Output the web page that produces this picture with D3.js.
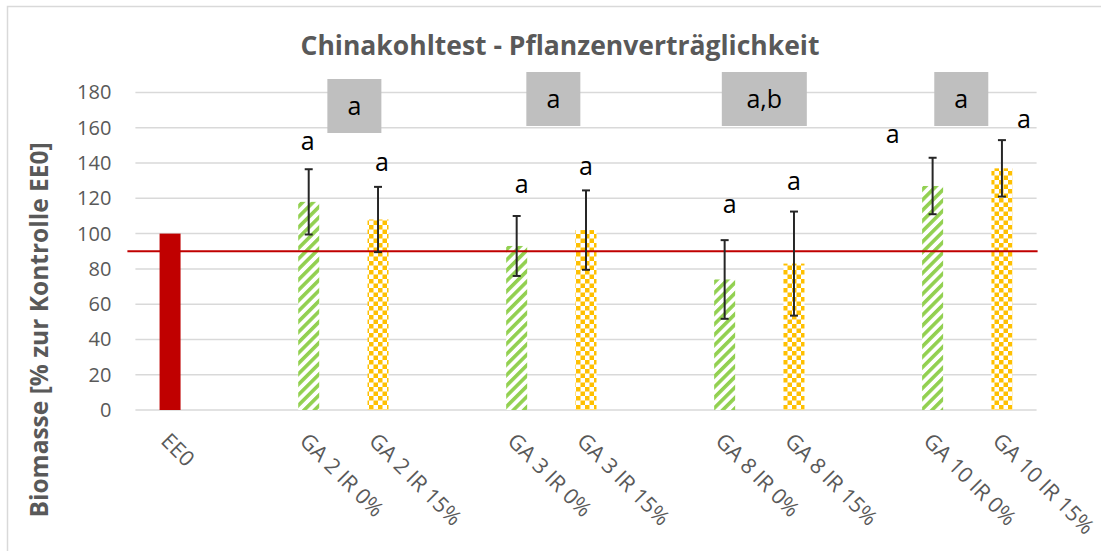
<!DOCTYPE html>
<html>
<head>
<meta charset="utf-8">
<script src="https://cdn.jsdelivr.net/npm/d3@7"></script>
<style>
  html, body { margin: 0; padding: 0; background: #fff; }
  svg { display: block; }
  text { font-family: "Open Sans", "Noto Sans", sans-serif; }
</style>
</head>
<body>
<svg id="chart" width="1101" height="551"></svg>
<script>
// Treatment groups (a blank slot separates each group on the axis)
const groups = [
  ["EE0"],
  ["GA 2 IR 0%", "GA 2 IR 15%"],
  ["GA 3 IR 0%", "GA 3 IR 15%"],
  ["GA 8 IR 0%", "GA 8 IR 15%"],
  ["GA 10 IR 0%", "GA 10 IR 15%"]
];
const categories = groups.flat();

// Biomass relative to the EE0 control (%)
const biomass   = [100, 118, 108, 93, 102, 74, 83, 127, 137];
const errorBars = [null, 18.5, 18.5, 17, 22.5, 22.3, 29.5, 16, 16];

// Significance letter per treatment and its height on the value axis
const sigLetters  = [null, "a", "a", "a", "a", "a", "a", "a", "a"];
const sigLetterAt = [null, 152, 140, 127.5, 138, 116, 129, 156, 164.5];
const sigLetterNudge = [0, -1, 4, 5, 0, 5, 0, -40, 22];

// Letters shown for each fertiliser group (GA 2, GA 3, GA 8, GA 10)
const groupLetters = ["a", "a", "a,b", "a"];
const groupLetterNudge = [11, 2, 5, -6];

// Reference threshold line
const threshold = 90;

const yTicks = [0, 20, 40, 60, 80, 100, 120, 140, 160, 180];

// Fill style per category
const barKind = ["solid", "stripe", "check", "stripe", "check", "stripe", "check", "stripe", "check"];

const svg = d3.select("#chart");

// Outer chart frame
svg.append("rect")
  .attr("x", 7.5).attr("y", 6.5)
  .attr("width", 1110).attr("height", 560)
  .attr("fill", "#fff").attr("stroke", "#d9d9d9").attr("stroke-width", 1.5);

// Patterns
const defs = svg.append("defs");
const stripe = defs.append("pattern")
  .attr("id", "stripeGreen")
  .attr("patternUnits", "userSpaceOnUse")
  .attr("width", 7.4).attr("height", 7.4)
  .attr("patternTransform", "rotate(45)");
stripe.append("rect").attr("width", 7.4).attr("height", 7.4).attr("fill", "#fff");
stripe.append("rect").attr("width", 3.6).attr("height", 7.4).attr("fill", "#92D050");

const check = defs.append("pattern")
  .attr("id", "checkOrange")
  .attr("patternUnits", "userSpaceOnUse")
  .attr("width", 9).attr("height", 9);
check.append("rect").attr("width", 9).attr("height", 9).attr("fill", "#fff");
check.append("rect").attr("width", 4.5).attr("height", 4.5).attr("fill", "#FFC000");
check.append("rect").attr("x", 4.5).attr("y", 4.5).attr("width", 4.5).attr("height", 4.5).attr("fill", "#FFC000");

const fills = { solid: "#C00000", stripe: "url(#stripeGreen)", check: "url(#checkOrange)" };

// Category axis domain with a spacer slot after each group
const domain = [];
groups.forEach((g, i) => {
  g.forEach(c => domain.push(c));
  if (i < groups.length - 1) domain.push("gap" + i);
});

const plot = { left: 135.4, right: 1036.6, top: 92.5, bottom: 410 };
const x = d3.scaleBand().domain(domain).range([plot.left, plot.right]);
const y = d3.scaleLinear().domain([0, 180]).range([plot.bottom, plot.top]);
const cx = c => x(c) + x.bandwidth() / 2;
const barW = 21;

// Gridlines
svg.append("g")
  .selectAll("line")
  .data(yTicks)
  .join("line")
  .attr("x1", plot.left).attr("x2", plot.right)
  .attr("y1", d => y(d)).attr("y2", d => y(d))
  .attr("stroke", "#d9d9d9").attr("stroke-width", 1.5);

// Value axis labels
const yAxis = svg.append("g")
  .attr("transform", `translate(${plot.left - 24},0)`)
  .call(d3.axisLeft(y).tickValues(yTicks).tickSize(0).tickPadding(0));
yAxis.select(".domain").remove();
yAxis.selectAll("text")
  .attr("font-size", 20)
  .attr("fill", "#595959")
  .attr("font-family", "'Open Sans', sans-serif");

// Bars
svg.append("g")
  .selectAll("rect")
  .data(categories)
  .join("rect")
  .attr("x", c => cx(c) - barW / 2)
  .attr("width", barW)
  .attr("y", (c, i) => y(biomass[i]))
  .attr("height", (c, i) => y(0) - y(biomass[i]))
  .attr("fill", (c, i) => fills[barKind[i]]);

// Threshold line
svg.append("line")
  .attr("x1", plot.left - 8).attr("x2", plot.right + 1)
  .attr("y1", y(threshold)).attr("y2", y(threshold))
  .attr("stroke", "#C00000").attr("stroke-width", 2);

// Error bars
const eb = svg.append("g").attr("stroke", "#262626").attr("stroke-width", 2);
categories.forEach((c, i) => {
  if (errorBars[i] == null) return;
  const xc = cx(c);
  const hi = y(biomass[i] + errorBars[i]);
  const lo = y(biomass[i] - errorBars[i]);
  eb.append("line").attr("x1", xc).attr("x2", xc).attr("y1", hi).attr("y2", lo);
  eb.append("line").attr("x1", xc - 4).attr("x2", xc + 4).attr("y1", hi).attr("y2", hi);
  eb.append("line").attr("x1", xc - 4).attr("x2", xc + 4).attr("y1", lo).attr("y2", lo);
});

// Significance letters above each treatment
svg.append("g")
  .selectAll("text")
  .data(categories.map((c, i) => ({ c, i })).filter(d => sigLetters[d.i]))
  .join("text")
  .attr("x", d => cx(d.c) + sigLetterNudge[d.i])
  .attr("y", d => y(sigLetterAt[d.i]))
  .attr("dy", "0.32em")
  .attr("text-anchor", "middle")
  .attr("font-size", 25)
  .attr("fill", "#000")
  .text(d => sigLetters[d.i]);

// Grey group boxes
groups.slice(1).forEach((g, k) => {
  const gx = (cx(g[0]) + cx(g[1])) / 2 + groupLetterNudge[k];
  const boxTop = k === 0 ? 79 : 72;
  const gb = svg.append("g");
  const t = gb.append("text")
    .attr("x", gx)
    .attr("y", boxTop + 28)
    .attr("dy", "0.32em")
    .attr("text-anchor", "middle")
    .attr("font-size", 25)
    .attr("fill", "#000")
    .text(groupLetters[k]);
  const len = t.node().getComputedTextLength();
  const w = 54 + Math.max(0, len - 15) * 1.5;
  gb.insert("rect", "text")
    .attr("x", gx - w / 2).attr("y", boxTop)
    .attr("width", w).attr("height", 54)
    .attr("fill", "#BFBFBF");
});

// Category labels, rotated
svg.append("g")
  .selectAll("text")
  .data(categories)
  .join("text")
  .attr("transform", c => `translate(${cx(c) - 5},437) rotate(45)`)
  .attr("dy", "0.35em")
  .attr("text-anchor", "start")
  .attr("font-size", 21.5)
  .attr("fill", "#595959")
  .text(c => c);

// Title
svg.append("text")
  .attr("x", 560).attr("y", 55)
  .attr("text-anchor", "middle")
  .attr("font-size", 26.5)
  .attr("font-weight", "bold")
  .attr("fill", "#595959")
  .text("Chinakohltest - Pflanzenverträglichkeit");

// Value axis title
svg.append("text")
  .attr("transform", "translate(48,330) rotate(-90)")
  .attr("text-anchor", "middle")
  .attr("font-size", 24.5)
  .attr("font-weight", "bold")
  .attr("fill", "#595959")
  .text("Biomasse [% zur Kontrolle EE0]");
</script>
</body>
</html>
